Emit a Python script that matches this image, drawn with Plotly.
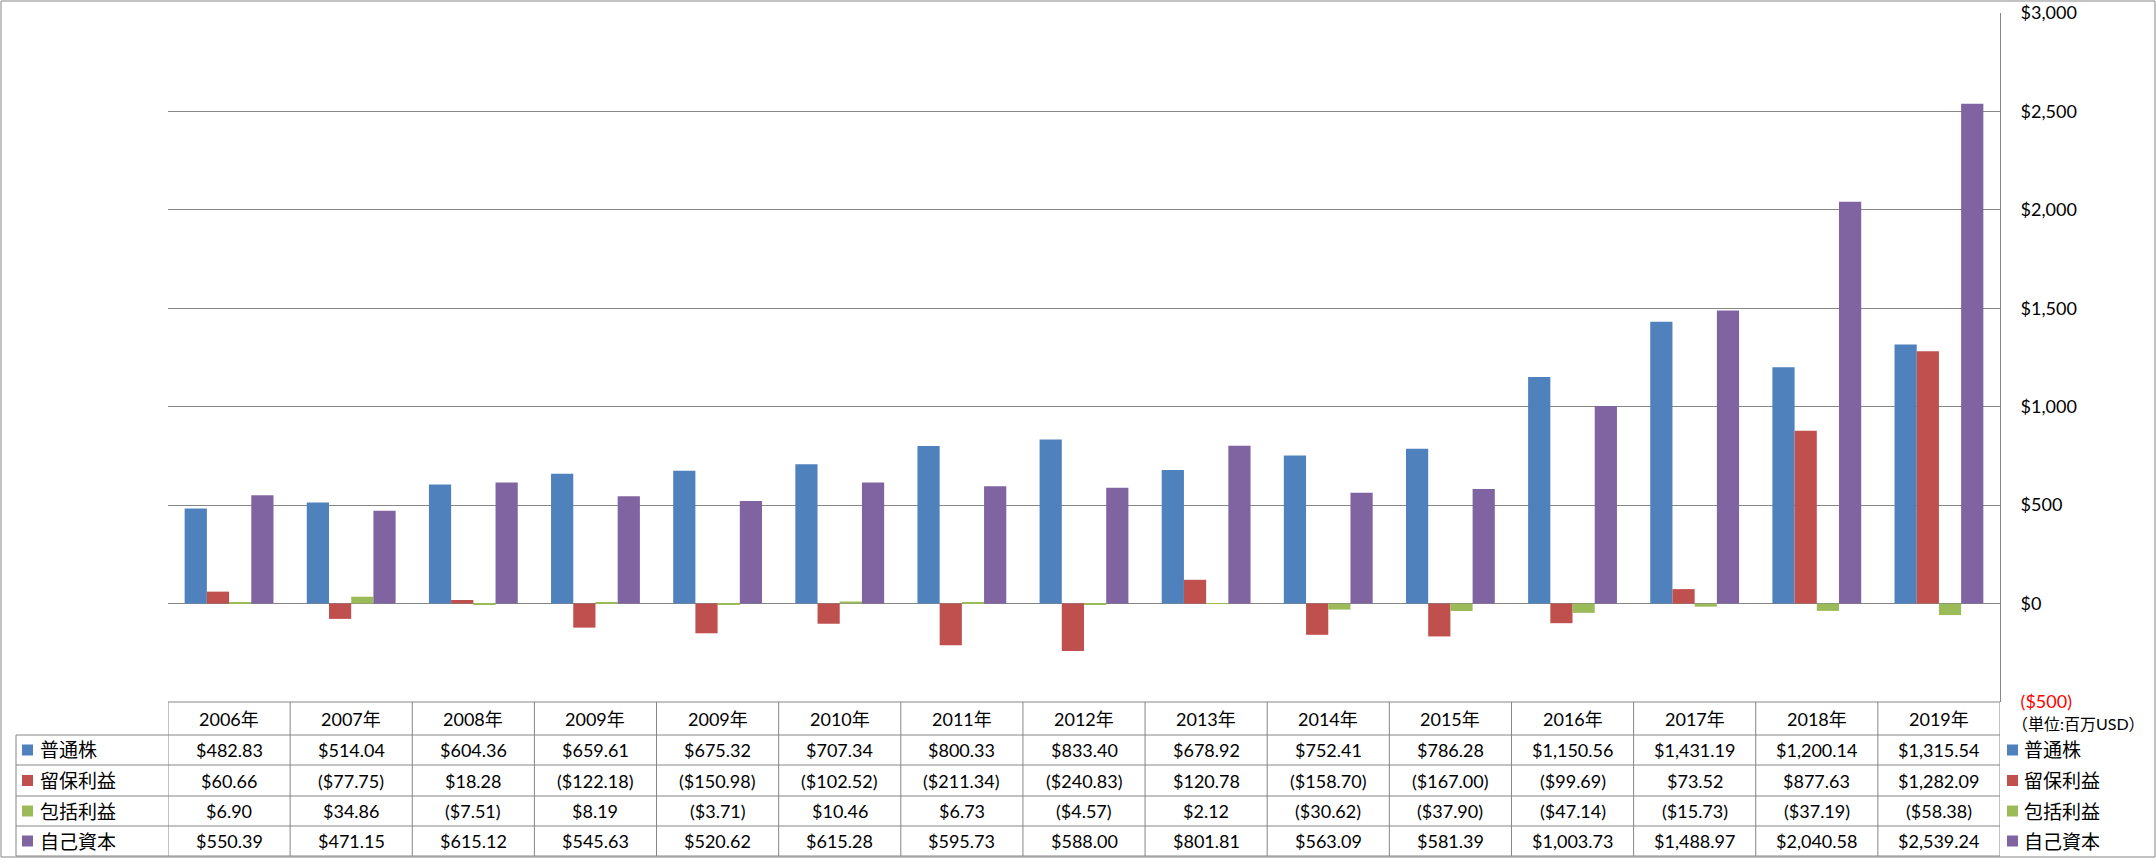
import plotly.graph_objects as go

# ---- data ----
years = ["2006年", "2007年", "2008年", "2009年", "2009年", "2010年", "2011年", "2012年",
         "2013年", "2014年", "2015年", "2016年", "2017年", "2018年", "2019年"]
series_names = ["普通株", "留保利益", "包括利益", "自己資本"]
common_stock = [482.83, 514.04, 604.36, 659.61, 675.32, 707.34, 800.33, 833.40,
                678.92, 752.41, 786.28, 1150.56, 1431.19, 1200.14, 1315.54]
retained_earnings = [60.66, -77.75, 18.28, -122.18, -150.98, -102.52, -211.34, -240.83,
                     120.78, -158.70, -167.00, -99.69, 73.52, 877.63, 1282.09]
comprehensive_income = [6.90, 34.86, -7.51, 8.19, -3.71, 10.46, 6.73, -4.57,
                        2.12, -30.62, -37.90, -47.14, -15.73, -37.19, -58.38]
equity = [550.39, 471.15, 615.12, 545.63, 520.62, 615.28, 595.73, 588.00,
          801.81, 563.09, 581.39, 1003.73, 1488.97, 2040.58, 2539.24]
y_ticks = [-500, 0, 500, 1000, 1500, 2000, 2500, 3000]
unit_label = "（単位:百万USD）"

colors = ["#4F81BD", "#C0504D", "#9BBB59", "#8064A2"]
series_values = [common_stock, retained_earnings, comprehensive_income, equity]

FONT = "Lato, 'Noto Sans CJK JP', sans-serif"
GRID = "#868686"
NUM_SIZE = 18

W, H = 2156, 858
PL, PR, PT, PB = 168, 2000, 13, 702   # plot area in pixels


def px(x):
    return (x - PL) / (PR - PL)


def py(y):
    return (PB - y) / (PB - PT)


def money(v):
    s = "${:,.2f}".format(abs(v))
    return "(" + s + ")" if v < 0 else s


def tick_text(v):
    s = "${:,.0f}".format(abs(v))
    if v < 0:
        return "<span style='color:#FF0000'>(" + s + ")</span>"
    return s


xs = list(range(len(years)))
fig = go.Figure()
for name, vals, col in zip(series_names, series_values, colors):
    fig.add_trace(go.Bar(
        x=xs, y=vals, name=name, marker=dict(color=col, line=dict(width=0)),
        customdata=years, hovertemplate="%{customdata}<br>" + name + ": %{y:$,.2f}<extra></extra>",
    ))

shapes = []
annotations = []

# outer chart border
shapes.append(dict(type="rect", xref="paper", yref="paper",
                   x0=px(1), x1=px(2155), y0=py(857), y1=py(1),
                   line=dict(color=GRID, width=1), layer="below"))

# data table grid
row_lines = [702, 735, 765, 796, 826, 856]
for i, yl in enumerate(row_lines):
    x0 = PL if i == 0 else 16
    shapes.append(dict(type="line", xref="paper", yref="paper",
                       x0=px(x0), x1=px(PR), y0=py(yl), y1=py(yl),
                       line=dict(color=GRID, width=1)))
for i in range(len(years) + 1):
    shapes.append(dict(type="line", xref="x", yref="paper",
                       x0=i - 0.5, x1=i - 0.5, y0=py(702), y1=py(856),
                       line=dict(color=GRID, width=1)))
shapes.append(dict(type="line", xref="paper", yref="paper",
                   x0=px(16), x1=px(16), y0=py(735), y1=py(856),
                   line=dict(color=GRID, width=1)))

# header row
for i, yr in enumerate(years):
    annotations.append(dict(x=i, y=py(718.5), xref="x", yref="paper", text=yr,
                            xanchor="center", yanchor="middle", showarrow=False,
                            font=dict(family=FONT, size=NUM_SIZE, color="#000")))

row_centers = [750, 780.5, 811, 841]
for r, (name, vals, col) in enumerate(zip(series_names, series_values, colors)):
    yc = row_centers[r]
    for i, v in enumerate(vals):
        annotations.append(dict(x=i, y=py(yc), xref="x", yref="paper", text=money(v),
                                xanchor="center", yanchor="middle", showarrow=False,
                                font=dict(family=FONT, size=NUM_SIZE, color="#000")))
    # legend key in table
    shapes.append(dict(type="rect", xref="paper", yref="paper",
                       x0=px(22), x1=px(33), y0=py(yc + 5.5), y1=py(yc - 5.5),
                       fillcolor=col, line=dict(width=0)))
    annotations.append(dict(x=px(38), y=py(yc), xref="paper", yref="paper", text=name,
                            xanchor="left", yanchor="middle", showarrow=False,
                            font=dict(family=FONT, size=19, color="#000")))
    # right legend
    shapes.append(dict(type="rect", xref="paper", yref="paper",
                       x0=px(2007), x1=px(2018), y0=py(yc + 5.5), y1=py(yc - 5.5),
                       fillcolor=col, line=dict(width=0)))
    annotations.append(dict(x=px(2022), y=py(yc), xref="paper", yref="paper", text=name,
                            xanchor="left", yanchor="middle", showarrow=False,
                            font=dict(family=FONT, size=19, color="#000")))

annotations.append(dict(x=px(2010), y=py(723), xref="paper", yref="paper", text=unit_label,
                        xanchor="left", yanchor="middle", showarrow=False,
                        font=dict(family=FONT, size=16, color="#000")))

fig.update_layout(
    width=W, height=H,
    margin=dict(l=PL, r=W - PR, t=PT, b=H - PB, autoexpand=False),
    paper_bgcolor="white", plot_bgcolor="white",
    barmode="group", bargap=1.5 / 5.5, bargroupgap=0,
    showlegend=False,
    font=dict(family=FONT, size=NUM_SIZE, color="#000"),
    xaxis=dict(range=[-0.5, len(years) - 0.5], showticklabels=False, showgrid=False,
               zeroline=False, ticks="", showline=False, fixedrange=True),
    yaxis=dict(side="right", range=[-500, 3000], tickvals=y_ticks,
               ticktext=[tick_text(v) for v in y_ticks],
               showgrid=True, gridcolor=GRID, gridwidth=1,
               zeroline=True, zerolinecolor=GRID, zerolinewidth=1,
               showline=True, linecolor=GRID, linewidth=1, ticks="",
               ticklabelstandoff=16, tickfont=dict(family=FONT, size=NUM_SIZE, color="#000"),
               fixedrange=True),
    shapes=shapes, annotations=annotations,
)

fig.write_html("out.html")
